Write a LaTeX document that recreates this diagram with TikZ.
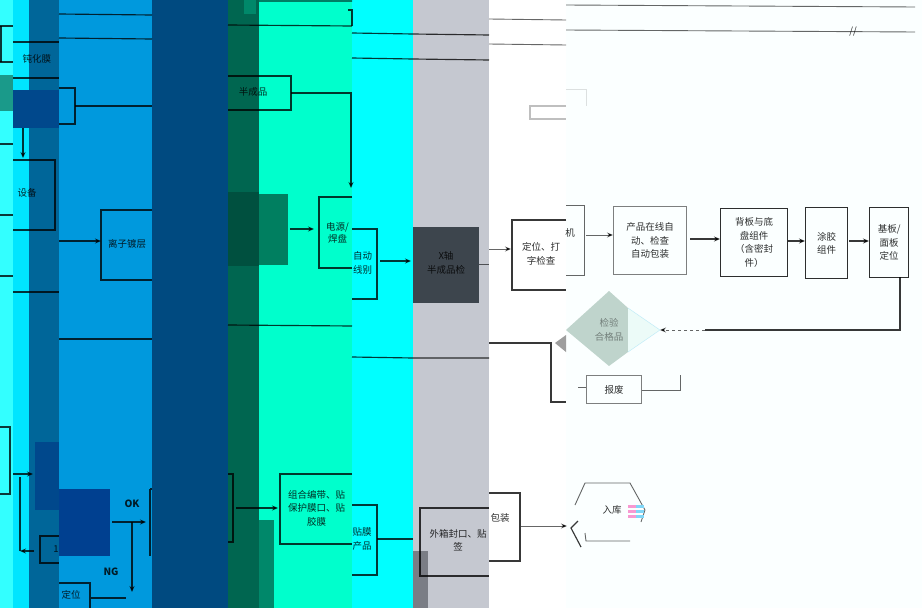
\documentclass[tikz,border=0pt]{standalone}
\usepackage{fontspec}
\setmainfont{Noto Sans CJK SC}
\usetikzlibrary{arrows.meta}
\definecolor{bA}{HTML}{33FFFF}\definecolor{bB}{HTML}{00E5FF}\definecolor{bC}{HTML}{006699}
\definecolor{bD}{HTML}{0099DD}\definecolor{bE}{HTML}{004A80}\definecolor{bF}{HTML}{006650}
\definecolor{bG}{HTML}{00FFCC}\definecolor{bH}{HTML}{00FFFF}\definecolor{bI}{HTML}{C5C8D0}
\definecolor{bK}{HTML}{FBFFFF}
\definecolor{pA}{HTML}{1A9A8A}\definecolor{pB}{HTML}{00488C}\definecolor{pC}{HTML}{004090}
\definecolor{pD}{HTML}{00503F}\definecolor{pE}{HTML}{007F60}\definecolor{pF}{HTML}{00886A}
\definecolor{pG}{HTML}{7A7D85}\definecolor{pH}{HTML}{3D454D}\definecolor{pI}{HTML}{BFD4CC}
\definecolor{pJ}{HTML}{ECFBF8}
\tikzset{
 ink/.style={draw=black,draw opacity=.78,line width=1.15pt},
 thin ink/.style={draw=black,draw opacity=.6,line width=.9pt},
 arr/.style={ink,-{Stealth[length=6pt,width=5pt]}},
 lab/.style={font=\fontsize{9.5}{13.5}\selectfont,text=black,text opacity=.82,align=center,inner sep=0pt},
 pbox/.style={draw=black,draw opacity=.82,line width=1.3pt,anchor=north west,inner sep=0pt},
}
\begin{document}
\begin{tikzpicture}[x=1pt,y=-1pt]
\useasboundingbox (0,0) rectangle (922,608);
% glitch bands
\fill[bA] (0,0) rectangle (13,608);
\fill[bB] (13,0) rectangle (29,608);
\fill[bC] (29,0) rectangle (59,608);
\fill[bD] (59,0) rectangle (152,608);
\fill[bE] (152,0) rectangle (228,608);
\fill[bF] (228,0) rectangle (259,608);
\fill[bG] (259,0) rectangle (352,608);
\fill[bH] (352,0) rectangle (413,608);
\fill[bI] (413,0) rectangle (489,608);
\fill[white] (489,0) rectangle (566,608);
\fill[bK] (566,0) rectangle (922,608);
% solid patches
\fill[pA] (0,75) rectangle (13,111);
\fill[pB] (13,90) rectangle (59,128);
\fill[pB] (35,442) rectangle (59,510);
\fill[pC] (59,489) rectangle (110,556);
\fill[pD] (228,192) rectangle (259,266);
\fill[pE] (259,194) rectangle (288,265);
\fill[pF] (259,520) rectangle (274,608);
\fill[pF] (244,0) rectangle (256,14);
\fill[pG] (413,551) rectangle (428,608);
\fill[pH] (413,227) rectangle (479,303);
\fill[black!38] (555,343) -- (566,335) -- (566,352) -- cycle;
\fill[pI] (566,330) -- (609,291) -- (628,308) -- (628,352) -- (609,366) -- cycle;
\fill[pJ] (628,308) -- (660,330) -- (628,352) -- cycle;
% long horizontal rules, displaced per band
\foreach \xa/\xb/\ya/\yb in {0/13/26/62, 13/59/42/78}{\draw[ink] (\xa,\ya) -- (\xb,\ya) (\xa,\yb) -- (\xb,\yb);}
\coordinate (r1) at (59,14); \coordinate (r1b) at (152,15);
\coordinate (r2) at (59,38); \coordinate (r2b) at (152,39);
\draw[ink] (r1) -- (r1b) (r2) -- (r2b);
\draw[ink] (259,1) -- (352,1) (228,25) -- (352,26);
\draw[ink] (348,10) -- (352,10) -- (352,26);
\draw[ink] (352,33) -- (413,34) -- (489,35) (352,58) -- (413,59) -- (489,60);
\draw[thin ink] (489,19) -- (566,20) (489,44) -- (566,45);
\draw[thin ink] (566,5) -- (915,7) (566,30) -- (915,32);
\node[lab] (cut) at (853,32) {//};
\draw[ink] (0,144) -- (13,144) (0,215) -- (13,215) (0,276) -- (13,276);
\draw[ink] (13,292) -- (59,292);
\draw[ink] (59,339) -- (152,339);
\draw[ink] (228,325) -- (352,326);
\draw[ink] (352,357) -- (413,358) -- (489,358);
% left column
\draw[ink] (1,26) -- (1,62);
\node[lab] (tA) at (37,59) {钝化膜};
\draw[ink] (13,160) -- (55,160) -- (55,230) -- (13,230);
\node[lab] (tB) at (27,193) {设备};
\coordinate (dkb) at (23,128); \coordinate (bxt) at (23,158);
\draw[arr] (dkb) -- (bxt);
\draw[ink] (59,88) -- (75,88) -- (75,124) -- (59,124);
\coordinate (rA) at (75,106); \coordinate (rB) at (152,106);
\draw[ink] (rA) -- (rB);
\coordinate (inA) at (59,241); \coordinate (inB) at (101,241);
\draw[arr] (inA) -- (inB);
\draw[ink] (152,210) -- (101,210) -- (101,280) -- (152,280);
\node[lab,anchor=west] (tC) at (108,244) {离子镀层};
% lower-left
\draw[ink] (0,427) -- (10,427) -- (10,494) -- (0,494);
\coordinate (oA) at (13,474); \coordinate (oB) at (33,474);
\draw[arr] (oA) -- (oB);
\draw[ink] (59,536) -- (40,536) -- (40,563) -- (59,563);
\node[lab] (tD) at (56,549) {1};
\coordinate (ba) at (34,551); \coordinate (bb) at (20,551); \coordinate (bc) at (20,477);
\draw[arr] (ba) -- (bb);
\draw[ink] (bb) -- (bc);
\node[lab,font=\bfseries\fontsize{10}{12}\selectfont] (ok) at (132,504) {OK};
\node[lab,font=\bfseries\fontsize{10}{12}\selectfont] (ng) at (111,572) {NG};
\coordinate (oka) at (112,522); \coordinate (okb) at (146,522); \coordinate (okc) at (132,522); \coordinate (okd) at (132,592);
\draw[arr] (oka) -- (okb);
\draw[arr] (okc) -- (okd);
\draw[ink] (59,583) -- (90,583) -- (90,608);
\node[lab] (tE) at (71,595) {定位};
\coordinate (la) at (91,598); \coordinate (lb) at (126,598);
\draw[ink] (la) -- (lb);
\draw[ink] (150,489) -- (152,489) (150,489) -- (150,556);
% upper-mid
\draw[ink] (228,76) -- (291,76) -- (291,110) -- (228,110);
\node[lab] (tF) at (253,92) {半成品};
\coordinate (ca) at (291,93); \coordinate (cb) at (351,93); \coordinate (cc) at (351,188);
\draw[arr] (ca) -- (cb) -- (cc);
\coordinate (da) at (290,229); \coordinate (db) at (314,229);
\draw[arr] (da) -- (db);
\draw[ink] (352,197) -- (319,197) -- (319,268) -- (352,268);
\node[lab,anchor=west] (tG) at (326,233) {电源/\\[-1pt]焊盘};
\draw[ink] (352,229) -- (377,229) -- (377,299) -- (352,299);
\node[lab,anchor=west] (tH) at (353,263) {自动\\线别};
\coordinate (ea) at (380,261); \coordinate (eb) at (411,261);
\draw[arr] (ea) -- (eb);
\node[lab] (tI) at (446,263) {X轴\\半成品检};
\coordinate (fa) at (479,264); \coordinate (fb) at (489,264);
\draw[thin ink] (fa) -- (fb);
\coordinate (ga) at (489,249); \coordinate (gb) at (511,249);
\draw[arr,thin ink] (ga) -- (gb);
\draw[ink] (566,220) -- (512,220) -- (512,290) -- (566,290);
\node[lab] (tJ) at (541,254) {定位、打\\字检查};
\draw[thin ink] (566,205) -- (584,205) -- (584,275) -- (566,275);
\node[lab] (tK) at (570,233) {机};
\coordinate (ha) at (586,235);
\draw[ink] (489,343) -- (551,343) -- (551,402) -- (566,402);
\draw[draw=black,draw opacity=.25,line width=2pt] (566,106) -- (530,106) -- (530,119) -- (566,119);
\draw[draw=black,draw opacity=.12,line width=.7pt] (566,89) -- (586,89) -- (586,106);
% process chain at the right
\node[pbox,draw opacity=.5,minimum width=73pt,minimum height=68pt,lab] (p1) at (613,206) {产品在线自\\动、检查\\自动包装};
\node[pbox,minimum width=67pt,minimum height=68pt,lab] (p2) at (720,208) {背板与底\\盘组件\\（含密封\\件）};
\node[pbox,minimum width=42pt,minimum height=71pt,lab] (p3) at (805,207) {涂胶\\组件};
\node[pbox,minimum width=39pt,minimum height=70pt,lab] (p4) at (869,207) {基板/\\面板\\定位};
\coordinate (hb) at (p1.west|-ha);
\draw[arr,thin ink] (ha) -- (hb);
\draw[arr] (690,239) -- (p2.west|-0,239);
\draw[arr] (p2.east|-0,241) -- (p3.west|-0,241);
\draw[arr] (849,241) -- (p4.west|-0,241);
% decision
\node[lab,text opacity=.4] (dt) at (609,330) {检验\\合格品};
\draw[draw=cyan,draw opacity=.2,line width=.5pt] (628,308) -- (660,330) -- (628,352);
\coordinate (pa) at (900,277); \coordinate (pb) at (900,330); \coordinate (pc) at (705,330); \coordinate (pd) at (660,330);
\draw[ink] (pa) -- (pb) -- (pc);
\draw[thin ink,dashed,-{Stealth[length=6pt,width=5pt]}] (pc) -- (pd);
\node[pbox,draw opacity=.5,minimum width=55pt,minimum height=28pt,lab] (sc) at (586,375) {报废};
\coordinate (sa) at (680,390); \coordinate (sb) at (680,375); \coordinate (sl) at (578,387);
\draw[thin ink] (sc.east|-sa) -- (sa) -- (sb);
\draw[thin ink] (sl) -- (sc.west|-sl);
% bottom chain
\draw[ink] (228,474) -- (233,474) -- (233,542) -- (228,542);
\coordinate (ia) at (236,508); \coordinate (ib) at (260,508); \coordinate (ic) at (278,508);
\draw[ink,line width=2pt] (ia) -- (ib);
\draw[arr] (ib) -- (ic);
\draw[ink] (352,474) -- (280,474) -- (280,544) -- (352,544);
\node[lab,anchor=west] (tM) at (288,508) {组合编带、贴\\保护膜口、贴\\胶膜};
\draw[ink] (352,505) -- (377,505) -- (377,575) -- (352,575);
\node[lab] (tN) at (362,539) {贴膜\\产品};
\coordinate (ja) at (377,539); \coordinate (jb) at (413,539);
\draw[ink] (ja) -- (jb);
\draw[ink,line width=1.4pt] (489,508) -- (420,508) -- (420,576) -- (489,576);
\node[lab] (tO) at (458,540) {外箱封口、贴\\签};
\draw[ink] (489,493) -- (520,493) -- (520,561) -- (489,561);
\node[lab] (tP) at (500,518) {包装};
\coordinate (ka) at (521,526); \coordinate (kb) at (567,526);
\draw[arr,thin ink] (ka) -- (kb);
\draw[thin ink] (575,505) -- (585,483) -- (630,483) -- (645,510) -- (641,522);
\draw[thin ink] (585,533) -- (586,541) -- (630,541);
\draw[ink] (578,521) -- (571,528) -- (581,547);
\node[lab] (tQ) at (612,510) {入库};
\foreach \y in {505,510,515}{\fill[magenta!40] (628,\y) rectangle (636,\y+3); \fill[cyan!50] (636,\y) rectangle (644,\y+3);}
\end{tikzpicture}
\end{document}
